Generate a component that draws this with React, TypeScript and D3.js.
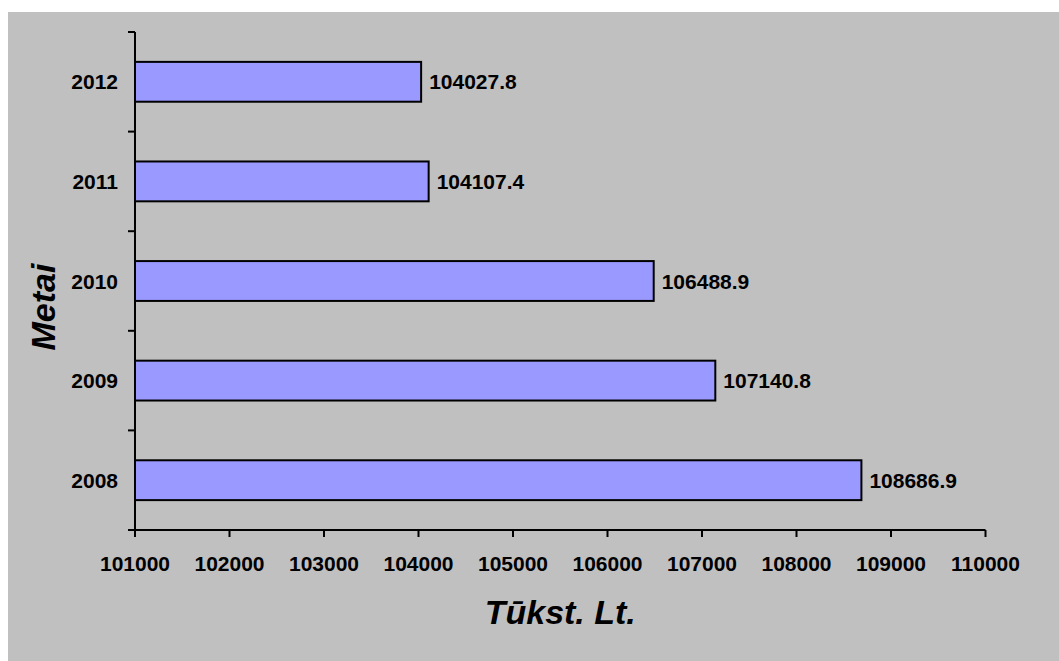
import * as d3 from 'd3'

const years = ['2008', '2009', '2010', '2011', '2012']
const values = [108686.9, 107140.8, 106488.9, 104107.4, 104027.8]
const xTicks = [101000, 102000, 103000, 104000, 105000, 106000, 107000, 108000, 109000, 110000]

const W = 1059
const H = 661
const left = 135
const right = 985.5
const top = 32
const bottom = 530
const font = 'Arial, "Liberation Sans", sans-serif'

export default function App() {
  const x = d3.scaleLinear().domain([101000, 110000]).range([left, right])
  const y = d3.scaleBand<string>()
    .domain([...years].reverse())
    .range([top, bottom])
    .paddingInner(0.6)
    .paddingOuter(0.3)
  const step = y.step()
  const bounds = d3.range(years.length + 1).map(i => top + i * step)

  return (
    <svg width={W} height={H} style={{ position: 'absolute', left: 0, top: 0 }}>
      <rect x={8} y={12} width={W - 8} height={H - 12} fill="#c0c0c0" />

      {years.map((yr, i) => (
        <g key={yr}>
          <rect
            x={x(101000)}
            y={y(yr)!}
            width={x(values[i]) - x(101000)}
            height={y.bandwidth()}
            fill="#9999ff"
            stroke="#000"
            strokeWidth={2}
          />
          <text
            x={x(values[i]) + 8}
            y={y(yr)! + y.bandwidth() / 2}
            dy="0.36em"
            fontFamily={font}
            fontWeight="bold"
            fontSize={21}
          >
            {values[i].toFixed(1)}
          </text>
          <text
            x={118}
            y={y(yr)! + y.bandwidth() / 2}
            dy="0.36em"
            textAnchor="end"
            fontFamily={font}
            fontWeight="bold"
            fontSize={21}
          >
            {yr}
          </text>
        </g>
      ))}

      {/* y axis */}
      <line x1={left} x2={left} y1={top} y2={bottom} stroke="#000" strokeWidth={2} />
      {bounds.map((b, i) => (
        <line key={i} x1={left - 7} x2={left} y1={b} y2={b} stroke="#000" strokeWidth={2} />
      ))}

      {/* x axis */}
      <line x1={left - 7} x2={right} y1={bottom} y2={bottom} stroke="#000" strokeWidth={2} />
      {xTicks.map(t => (
        <g key={t}>
          <line x1={x(t)} x2={x(t)} y1={bottom} y2={bottom + 7} stroke="#000" strokeWidth={2} />
          <text
            x={x(t)}
            y={bottom + 41}
            textAnchor="middle"
            fontFamily={font}
            fontWeight="bold"
            fontSize={21}
          >
            {t}
          </text>
        </g>
      ))}

      <text
        x={(left + right) / 2}
        y={624}
        textAnchor="middle"
        fontFamily={font}
        fontWeight="bold"
        fontStyle="italic"
        fontSize={34}
      >
        Tūkst. Lt.
      </text>
      <text
        transform="translate(55,307) rotate(-90)"
        textAnchor="middle"
        fontFamily={font}
        fontWeight="bold"
        fontStyle="italic"
        fontSize={34}
      >
        Metai
      </text>
    </svg>
  )
}
